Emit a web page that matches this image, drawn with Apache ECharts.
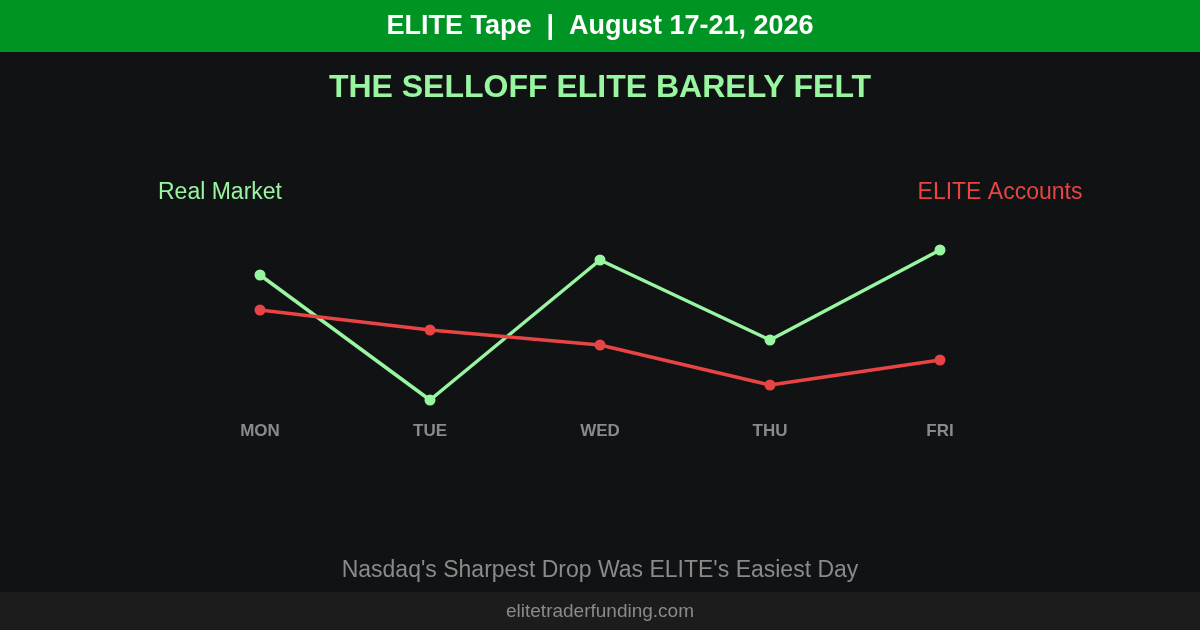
<!DOCTYPE html>
<html>
<head>
<meta charset="UTF-8">
<script src="https://cdn.jsdelivr.net/npm/echarts@6/dist/echarts.min.js"></script>
<style>
  html, body { margin: 0; padding: 0; background: #101214; }
  #chart { width: 1200px; height: 630px; }
</style>
</head>
<body>
<div id="chart"></div>
<script>
  // values (relative scale, 0-100)
  let days = ['MON', 'TUE', 'WED', 'THU', 'FRI'];
  let realMarket = [62.5, 0, 70, 30, 75];
  let eliteAccounts = [45, 35, 27.5, 7.5, 20];

  const FF = 'Liberation Sans';
  function label(x, y, text, color, size, weight) {
    return {
      type: 'text', x: x, y: y,
      style: { text: text, fill: color, fontFamily: FF, fontSize: size, fontWeight: weight || 'normal', align: 'center', verticalAlign: 'middle' }
    };
  }

  let chart = echarts.init(document.getElementById('chart'));
  let option = {
    backgroundColor: '#101214',
    graphic: [
      { type: 'rect', shape: { x: 0, y: 0, width: 1200, height: 52 }, style: { fill: '#009424' } },
      { type: 'rect', shape: { x: 0, y: 592, width: 1200, height: 38 }, style: { fill: '#1c1c1c' } },
      label(600, 27, 'ELITE Tape  |  August 17-21, 2026', '#ffffff', 27, 'bold'),
      label(600, 88, 'THE SELLOFF ELITE BARELY FELT', '#98f5a0', 32, 'bold'),
      label(220, 193, 'Real Market', '#98f5a0', 23),
      label(1000, 193, 'ELITE Accounts', '#e84444', 23),
      label(600, 571, "Nasdaq's Sharpest Drop Was ELITE's Easiest Day", '#8a8a8a', 23),
      label(600, 612, 'elitetraderfunding.com', '#8a8a8a', 19)
    ],
    grid: { left: 260, right: 260, top: 200, height: 200 },
    xAxis: {
      type: 'category',
      data: days,
      boundaryGap: false,
      axisLine: { show: false },
      axisTick: { show: false },
      axisLabel: { color: '#8a8a8a', fontWeight: 'bold', fontSize: 17, margin: 23, fontFamily: FF }
    },
    yAxis: { type: 'value', min: 0, max: 100, show: false, splitLine: { show: false } },
    series: [
      {
        name: 'Real Market', type: 'line', data: realMarket,
        symbol: 'circle', symbolSize: 11,
        lineStyle: { color: '#98f5a0', width: 3.5 },
        itemStyle: { color: '#98f5a0' }
      },
      {
        name: 'ELITE Accounts', type: 'line', data: eliteAccounts,
        symbol: 'circle', symbolSize: 11,
        lineStyle: { color: '#e84444', width: 3.5 },
        itemStyle: { color: '#e84444' }
      }
    ]
  };
  chart.setOption(option);
</script>
</body>
</html>
